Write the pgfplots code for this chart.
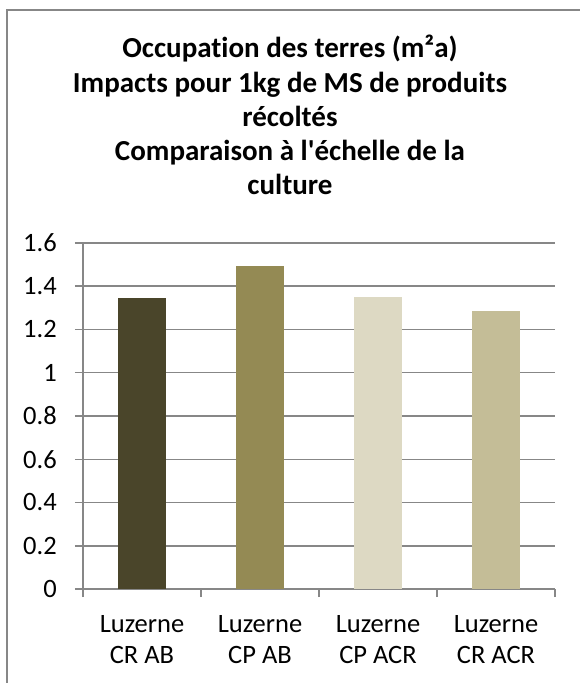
\documentclass[border=0pt]{standalone}
\usepackage{fontspec}
\setmainfont{Carlito}[Ligatures=NoCommon]
\usepackage{pgfplots}
\pgfplotsset{compat=1.18}

\definecolor{gridgray}{HTML}{878787}
\definecolor{barA}{HTML}{4A452A}
\definecolor{barB}{HTML}{948A54}
\definecolor{barC}{HTML}{DDD9C3}
\definecolor{barD}{HTML}{C4BD97}

\begin{document}
\begin{tikzpicture}
  \begin{axis}[
      at={(0pt,0pt)}, anchor=south west,
      scale only axis, width=472pt, height=346pt,
      xmin=-0.5, xmax=3.5, ymin=0, ymax=1.6,
      axis lines=left,
      axis line style={-, draw=gridgray, line width=1.5pt},
      xtick={0,1,2,3},
      xticklabels={{Luzerne\\CR AB},{Luzerne\\CP AB},{Luzerne\\CP ACR},{Luzerne\\CR ACR}},
      minor xtick={-0.5,0.5,1.5,2.5,3.5},
      major x tick style={draw=none},
      minor x tick style={draw=gridgray, line width=1.5pt},
      ytick={0,0.2,0.4,0.6,0.8,1,1.2,1.4,1.6},
      y tick style={draw=gridgray, line width=1.5pt},
      tick align=outside, major tick length=8pt, minor tick length=8pt,
      ymajorgrids, grid style={draw=gridgray, line width=1.5pt},
      /pgf/number format/assume math mode=true,
      ticklabel style={font=\fontsize{26.5}{31}\selectfont, inner sep=0pt},
      xticklabel style={align=center, anchor=north, yshift=-18pt},
      yticklabel style={anchor=east, xshift=-18pt},
    ]
    \addplot[ybar, bar width=48pt, fill=barA, draw=none] coordinates {(0,1.347)};
    \addplot[ybar, bar width=48pt, fill=barB, draw=none] coordinates {(1,1.495)};
    \addplot[ybar, bar width=48pt, fill=barC, draw=none] coordinates {(2,1.352)};
    \addplot[ybar, bar width=48pt, fill=barD, draw=none] coordinates {(3,1.287)};
  \end{axis}
  % chart frame (cut by the picture edge on the right and bottom)
  \draw[gridgray, line width=2pt] (-76pt,-120pt) -- (-76pt,579pt) -- (520pt,579pt);
  % title
  \begin{scope}[every node/.style={anchor=base, inner sep=0pt,
      font=\fontsize{29}{34}\selectfont\bfseries}]
    \node at (207pt,531pt) {Occupation des terres (m²a)};
    \node at (207pt,496pt) {Impacts pour 1kg de MS de produits};
    \node at (207pt,462pt) {récoltés};
    \node at (207pt,428pt) {Comparaison à l\textquotesingle échelle de la};
    \node at (207pt,394pt) {culture};
  \end{scope}
  \pgfresetboundingbox
  \useasboundingbox (-83pt,-94pt) rectangle (496pt,589pt);
\end{tikzpicture}
\end{document}
